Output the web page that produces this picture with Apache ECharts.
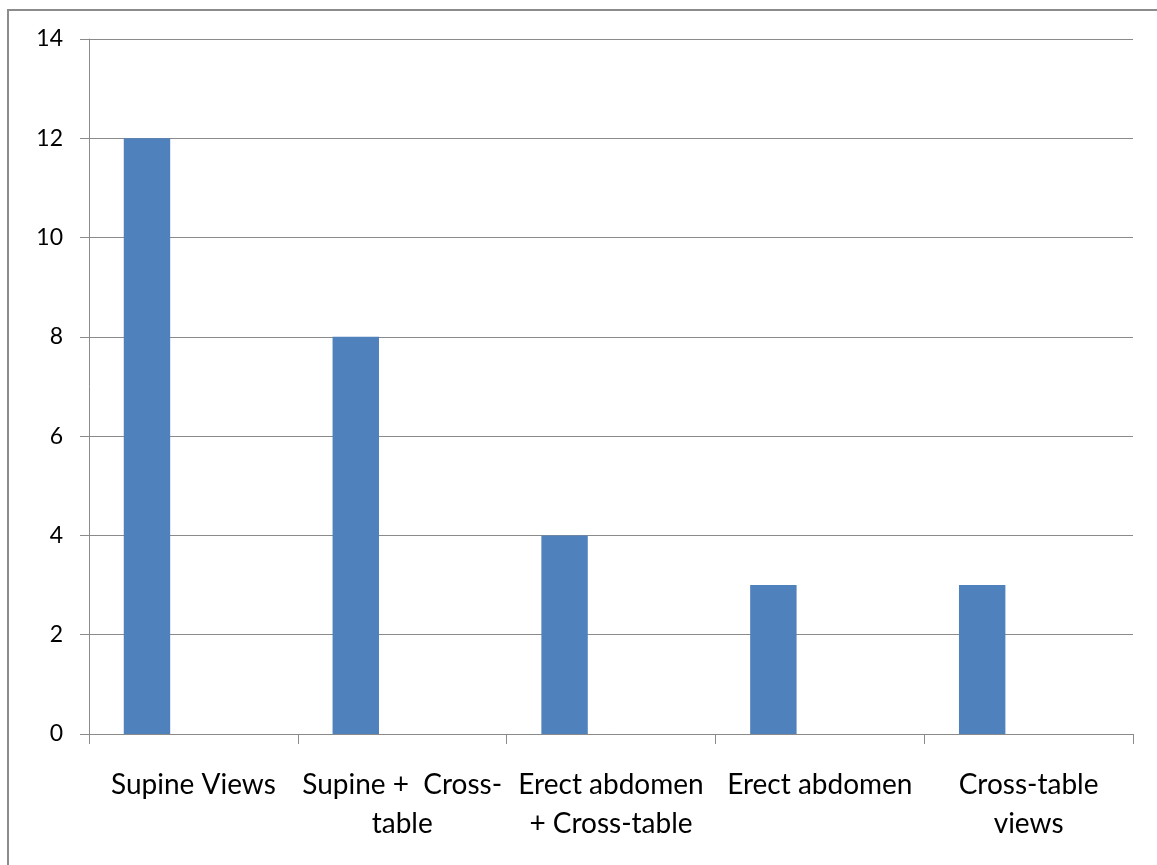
<!DOCTYPE html>
<html>
<head>
<meta charset="utf-8">
<title>Radiographic views</title>
<script src="https://cdn.jsdelivr.net/npm/echarts@6/dist/echarts.min.js"></script>
<style>
  html, body { margin: 0; padding: 0; background: #ffffff; }
  #chart { width: 1157px; height: 865px; }
</style>
</head>
<body>
<div id="chart"></div>
<script>
// Categories and counts
const categories = ['Supine Views', 'Supine + Cross-table', 'Erect abdomen + Cross-table', 'Erect abdomen', 'Cross-table views'];
// Wrapped tick labels as printed under the axis
const tickLabels = ['Supine Views', 'Supine +  Cross-\ntable', 'Erect abdomen\n+ Cross-table', 'Erect abdomen', 'Cross-table\nviews'];
const counts = [12, 8, 4, 3, 3];
// Two further series slots in the cluster carry no values
const series2 = [];
const series3 = [];
const yTicks = [0, 2, 4, 6, 8, 10, 12, 14];

const chart = echarts.init(document.getElementById('chart'), null, { renderer: 'canvas' });

const axisGray = '#8a8a8a';
const fontFamily = 'Lato, "Noto Sans", sans-serif';

chart.setOption({
  animation: false,
  backgroundColor: '#ffffff',
  graphic: [{
    type: 'rect',
    shape: { x: 8, y: 10, width: 1200, height: 900 },
    style: { fill: 'none', stroke: '#8c8c8c', lineWidth: 2 },
    silent: true
  }],
  grid: { left: 89, right: 24, top: 39, bottom: 131, containLabel: false },
  xAxis: {
    type: 'category',
    data: categories,
    axisLine: { show: true, lineStyle: { color: axisGray, width: 1 } },
    axisTick: { show: true, length: 10, alignWithLabel: false, lineStyle: { color: axisGray } },
    axisLabel: {
      margin: 31,
      interval: 0,
      color: '#000000',
      fontFamily: fontFamily,
      fontSize: 28,
      lineHeight: 39,
      formatter: function (value, idx) { return tickLabels[idx]; }
    },
    splitLine: { show: false }
  },
  yAxis: {
    type: 'value',
    min: yTicks[0],
    max: yTicks[yTicks.length - 1],
    interval: 2,
    axisLine: { show: true, lineStyle: { color: axisGray, width: 1 } },
    axisTick: { show: true, inside: false, length: 9, lineStyle: { color: axisGray } },
    axisLabel: {
      margin: 26,
      color: '#000000',
      fontFamily: fontFamily,
      fontSize: 23
    },
    splitLine: { show: true, lineStyle: { color: axisGray, width: 1 } }
  },
  series: [
    {
      name: 'Count',
      type: 'bar',
      data: counts,
      itemStyle: { color: '#4f81bd' },
      barGap: '0%',
      barCategoryGap: '33.3%'
    },
    { name: 'Series 2', type: 'bar', data: series2, itemStyle: { color: '#c0504d' } },
    { name: 'Series 3', type: 'bar', data: series3, itemStyle: { color: '#9bbb59' } }
  ]
});
</script>
</body>
</html>
